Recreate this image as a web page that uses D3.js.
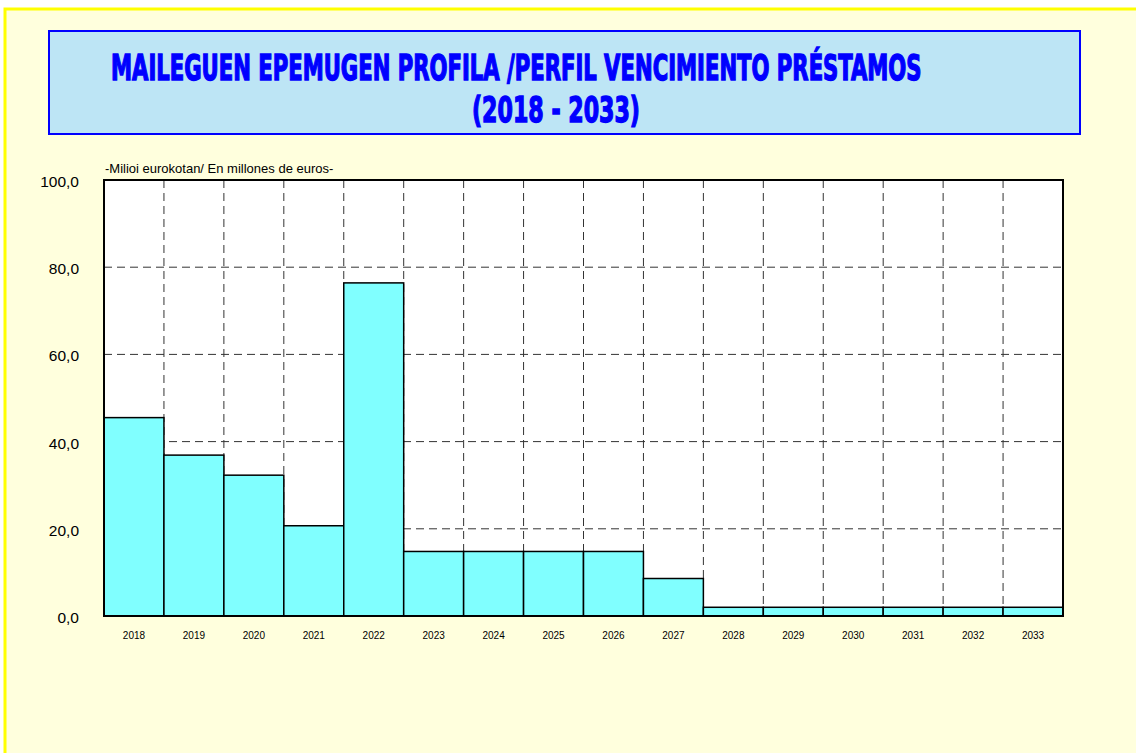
<!DOCTYPE html>
<html lang="es">
<head>
<meta charset="utf-8">
<title>Perfil vencimiento préstamos</title>
<style>
  body { margin: 0; background: #fff; }
  svg { position: absolute; top: 0; left: 0; }
  .tick text { font-family: "Liberation Sans", Arial, sans-serif; font-weight: normal; }
</style>
<script src="https://cdn.jsdelivr.net/npm/d3@7"></script>
</head>
<body>
<script>
// data
var years = ["2018","2019","2020","2021","2022","2023","2024","2025","2026","2027","2028","2029","2030","2031","2032","2033"];
var amounts = [45.5, 36.9, 32.3, 20.7, 76.4, 14.8, 14.8, 14.8, 14.8, 8.6, 2.0, 2.0, 2.0, 2.0, 2.0, 2.0];
var yTicks = [0, 20, 40, 60, 80, 100];
var titleLines = ["MAILEGUEN EPEMUGEN PROFILA /PERFIL VENCIMIENTO PRÉSTAMOS", "(2018 - 2033)"];
var unitLabel = "-Milioi eurokotan/ En millones de euros-";

var width = 1136, height = 753;
var plot = {left: 104, right: 1063, top: 180, bottom: 616};

var svg = d3.select("body").append("svg")
  .attr("width", width)
  .attr("height", height);

// page background with yellow frame
svg.append("rect")
  .attr("x", 5).attr("y", 9)
  .attr("width", width + 10).attr("height", height + 10)
  .style("fill", "#FFFFDD")
  .style("stroke", "#FFFF00")
  .style("stroke-width", 3);

// title box
svg.append("rect")
  .attr("x", 49).attr("y", 31)
  .attr("width", 1031).attr("height", 103)
  .style("fill", "#BDE5F5")
  .style("stroke", "#0000FF")
  .style("stroke-width", 2);

var titleFont = '"Liberation Sans Narrow", "DejaVu Sans Condensed", sans-serif';
var title = svg.append("g")
  .style("font-family", titleFont)
  .style("font-weight", "bold")
  .style("font-size", "36px")
  .style("fill", "#0000FF")
  .style("stroke", "#0000FF")
  .style("stroke-width", 1.4);

// squeeze each title line horizontally to the width seen in the picture
var titlePos = [{x: 111, y: 80, w: 811}, {x: 472, y: 122, w: 168}];
titleLines.forEach(function(line, i) {
  var p = titlePos[i];
  var t = title.append("text").text(line);
  var natural = t.node().getComputedTextLength();
  t.attr("transform", "translate(" + p.x + "," + p.y + ") scale(" + (p.w / natural) + ",1)");
});

// scales
var x = d3.scaleBand()
  .domain(years)
  .range([plot.left, plot.right])
  .paddingInner(0).paddingOuter(0);

var y = d3.scaleLinear()
  .domain([0, 100])
  .range([plot.bottom, plot.top]);

// plot area
svg.append("rect")
  .attr("x", plot.left).attr("y", plot.top)
  .attr("width", plot.right - plot.left)
  .attr("height", plot.bottom - plot.top)
  .style("fill", "#fff");

// dashed grid
var grid = svg.append("g")
  .style("stroke", "#333")
  .style("stroke-width", 1)
  .style("stroke-dasharray", "8,5");

grid.selectAll(".vgrid")
  .data(years.slice(1))
  .enter().append("line")
  .attr("class", "vgrid")
  .attr("x1", function(d){ return x(d); })
  .attr("x2", function(d){ return x(d); })
  .attr("y1", plot.top)
  .attr("y2", plot.bottom);

grid.selectAll(".hgrid")
  .data(yTicks.slice(1, -1))
  .enter().append("line")
  .attr("class", "hgrid")
  .attr("x1", plot.left)
  .attr("x2", plot.right)
  .attr("y1", function(d){ return y(d); })
  .attr("y2", function(d){ return y(d); });

// bars
svg.selectAll(".bar")
  .data(amounts)
  .enter().append("rect")
  .attr("class", "bar")
  .attr("x", function(d, i){ return x(years[i]); })
  .attr("y", function(d){ return y(d); })
  .attr("width", x.bandwidth())
  .attr("height", function(d){ return y(0) - y(d); })
  .style("fill", "#80FFFF")
  .style("stroke", "#000")
  .style("stroke-width", 1.5);

// plot border
svg.append("rect")
  .attr("x", plot.left).attr("y", plot.top)
  .attr("width", plot.right - plot.left)
  .attr("height", plot.bottom - plot.top)
  .style("fill", "none")
  .style("stroke", "#000")
  .style("stroke-width", 2);

// y axis
var yAxis = svg.append("g")
  .attr("transform", "translate(" + plot.left + ",1.5)")
  .call(d3.axisLeft(y)
    .tickValues(yTicks)
    .tickSize(0)
    .tickPadding(25)
    .tickFormat(function(d){ return d3.format(".1f")(d).replace(".", ","); }));
yAxis.select(".domain").remove();
yAxis.selectAll("text")
  .style("font-size", "15.5px")
  .style("fill", "#000");

// x axis
var xAxis = svg.append("g")
  .attr("transform", "translate(0," + plot.bottom + ")")
  .call(d3.axisBottom(x).tickSize(0).tickPadding(16));
xAxis.select(".domain").remove();
xAxis.selectAll("text")
  .style("font-size", "10px")
  .style("fill", "#000");

// unit label
svg.append("text")
  .attr("x", plot.left + 1).attr("y", 173)
  .style("font-family", '"Liberation Sans", Arial, sans-serif')
  .style("font-size", "13px")
  .style("fill", "#000")
  .text(unitLabel);
</script>
</body>
</html>
